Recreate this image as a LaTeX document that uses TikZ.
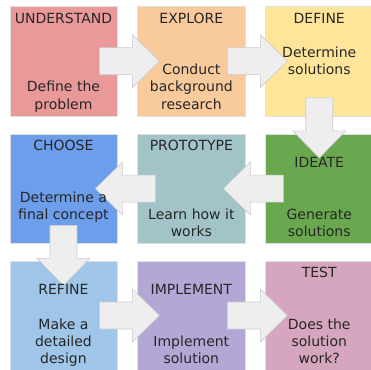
\documentclass[tikz,border=0pt]{standalone}
\usepackage{fontspec}
\setmainfont{DejaVu Sans}
\usetikzlibrary{positioning,calc}

\definecolor{cUnderstand}{HTML}{EA9999}
\definecolor{cExplore}{HTML}{F9CB9C}
\definecolor{cDefine}{HTML}{FFE599}
\definecolor{cIdeate}{HTML}{6AA84F}
\definecolor{cPrototype}{HTML}{A2C4C9}
\definecolor{cChoose}{HTML}{6D9EEB}
\definecolor{cRefine}{HTML}{9FC5E8}
\definecolor{cImplement}{HTML}{B4A7D6}
\definecolor{cTest}{HTML}{D5A6BD}
\definecolor{arrowfill}{HTML}{EEEEEE}
\definecolor{arrowline}{HTML}{CCCCCC}

\tikzset{
    stage/.style={draw=black!12, minimum width=107.5pt, minimum height=109pt, inner sep=0pt},
    txt/.style={anchor=base, inner sep=0pt, font=\fontsize{14}{17}\selectfont, text=black!85},
    blockarrow/.pic={
        \draw[fill=arrowfill, draw=arrowline, line width=0.6pt]
            (-18,-13.5) -- (15,-13.5) -- (15,-26.5) -- (42,0)
            -- (15,26.5) -- (15,13.5) -- (-18,13.5) -- cycle;
    }
}

% lines of a stage: number/text, counted from the top of the box
\newcommand\stagetext[2]{%
    \foreach \k/\stxt in {#2}
        \node[txt] (#1-\k) at ($(#1.north)+(0,{-16.8-17.15*(\k-1)})$) {\stxt};%
}

\begin{document}
\begin{tikzpicture}[x=1pt,y=1pt]
    \useasboundingbox[fill=white] (0,0) rectangle (371,-369);

    % the nine stages
    \node[stage,fill=cUnderstand,anchor=north west] (und) at (9.5,-6.5) {};
    \node[stage,fill=cExplore,right=20pt of und] (exp) {};
    \node[stage,fill=cDefine,right=20pt of exp] (def) {};

    \node[stage,fill=cChoose,below=18pt of und] (cho) {};
    \node[stage,fill=cPrototype,right=20pt of cho] (pro) {};
    \node[stage,fill=cIdeate,right=20pt of pro] (ide) {};

    \node[stage,fill=cRefine,below=17.5pt of cho] (ref) {};
    \node[stage,fill=cImplement,right=20pt of ref] (imp) {};
    \node[stage,fill=cTest,right=20pt of imp] (tst) {};

    % block arrows between the stages
    \pic at (und.east) {blockarrow};
    \pic at (exp.east) {blockarrow};
    \pic[rotate=-90] at (def.south) {blockarrow};
    \pic[rotate=180] at (ide.west) {blockarrow};
    \pic[rotate=180] at (pro.west) {blockarrow};
    \pic[rotate=-90] at (cho.south) {blockarrow};
    \pic at (ref.east) {blockarrow};
    \pic at (imp.east) {blockarrow};

    % labels
    \stagetext{und}{1/UNDERSTAND, 5/Define the, 6/problem}
    \stagetext{exp}{1/EXPLORE, 4/Conduct, 5/background, 6/research}
    \stagetext{def}{1/DEFINE, 3/Determine, 4/solutions}
    \stagetext{cho}{1/CHOOSE, 4/Determine a, 5/final concept}
    \stagetext{pro}{1/PROTOTYPE, 5/Learn how it, 6/works}
    \stagetext{ide}{2/IDEATE, 5/Generate, 6/solutions}
    \stagetext{ref}{2/REFINE, 4/Make a, 5/detailed, 6/design}
    \stagetext{imp}{2/IMPLEMENT, 5/Implement, 6/solution}
    \stagetext{tst}{1/TEST, 4/Does the, 5/solution, 6/work?}
\end{tikzpicture}
\end{document}
